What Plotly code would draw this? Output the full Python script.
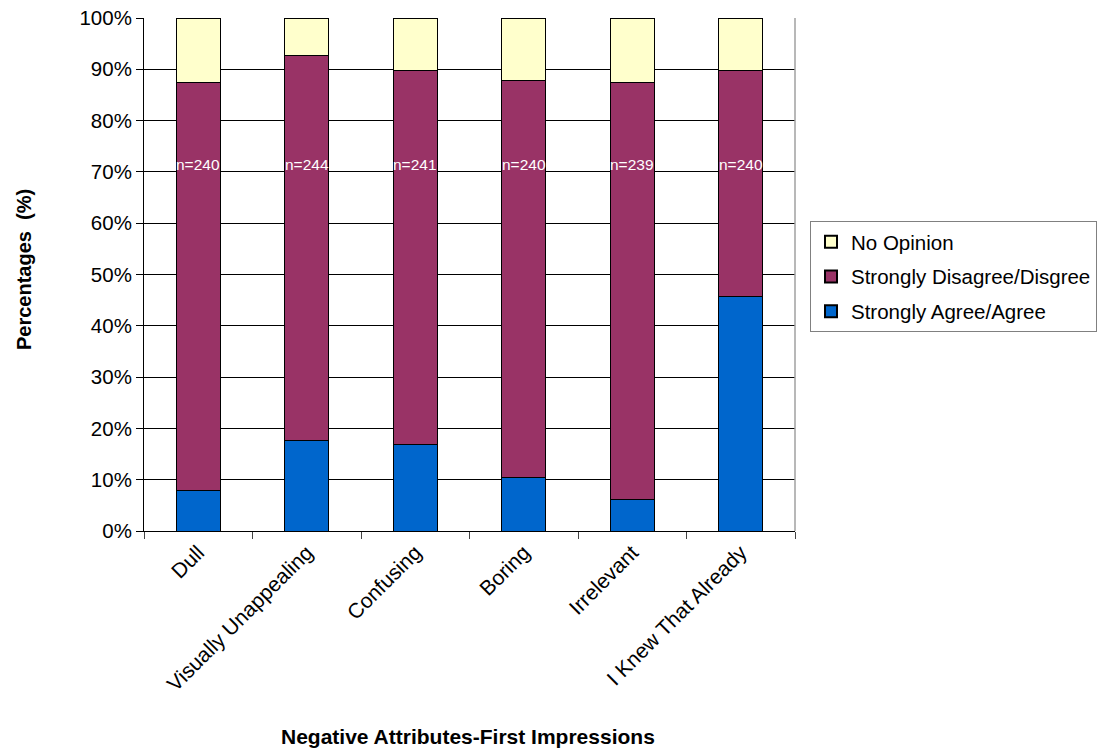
import plotly.graph_objects as go

categories = ["Dull", "Visually Unappealing", "Confusing", "Boring", "Irrelevant", "I Knew That Already"]
agree = [7.8, 17.6, 16.8, 10.5, 6.2, 45.8]
disagree = [79.6, 75.1, 72.9, 77.3, 81.2, 43.9]
no_opinion = [12.6, 7.3, 10.3, 12.2, 12.6, 10.3]
n_labels = ["n=240", "n=244", "n=241", "n=240", "n=239", "n=240"]

FONT = "Liberation Sans, Arial, sans-serif"
line = dict(color="black", width=1)

W, H = 1097, 749
L, R, T, B = 144, 302, 18, 218
plot_w = W - L - R
plot_h = H - T - B


def px_x(x):
    return (x - L) / plot_w


def px_y(y):
    return (T + plot_h - y) / plot_h


fig = go.Figure()
fig.add_trace(go.Bar(x=categories, y=agree, name="Strongly Agree/Agree",
                     legendgroup="a", legendrank=3,
                     marker=dict(color="#0066CC", line=line)))
fig.add_trace(go.Bar(x=categories, y=disagree, name="Strongly Disagree/Disgree",
                     legendgroup="d", legendrank=2,
                     marker=dict(color="#993366", line=line)))
fig.add_trace(go.Bar(x=categories, y=no_opinion, name="No Opinion",
                     legendgroup="n", legendrank=1,
                     marker=dict(color="#FFFFCC", line=line)))

for cat, lab in zip(categories, n_labels):
    fig.add_annotation(x=cat, y=71.5, text=lab, showarrow=False,
                       font=dict(family=FONT, size=15.5, color="white"))

# axis titles
fig.add_annotation(xref="paper", yref="paper", x=px_x(468), y=px_y(736),
                   text="<b>Negative Attributes-First Impressions</b>", showarrow=False,
                   xanchor="center", yanchor="middle",
                   font=dict(family=FONT, size=21, color="black"))
fig.add_annotation(xref="paper", yref="paper", x=px_x(24), y=px_y(270),
                   text="<b>Percentages  (%)</b>", showarrow=False, textangle=-90,
                   xanchor="center", yanchor="middle",
                   font=dict(family=FONT, size=20, color="black"))

# grey frame on the right side of the plot area
fig.add_shape(type="line", xref="paper", yref="paper", x0=1, x1=1, y0=0, y1=1,
              line=dict(color="#A0A0A0", width=1.5))

fig.update_layout(
    width=W, height=H,
    barmode="stack", bargap=0.594,
    plot_bgcolor="white", paper_bgcolor="white",
    margin=dict(l=L, r=R, t=T, b=B, autoexpand=False),
    font=dict(family=FONT, size=18, color="black"),
    xaxis=dict(
        tickangle=-45, ticks="outside", tickson="boundaries", ticklen=7,
        showline=True, linecolor="black", linewidth=1,
        tickfont=dict(size=21),
    ),
    yaxis=dict(
        range=[0, 100], dtick=10, ticksuffix="%",
        ticks="outside", ticklen=7, tickcolor="black",
        showline=True, linecolor="black", linewidth=1,
        showgrid=True, gridcolor="black", gridwidth=1,
        tickfont=dict(size=20.5),
    ),
    legend=dict(
        x=px_x(810), y=px_y(221),
        xanchor="left", yanchor="top",
        traceorder="grouped", bordercolor="#808080", borderwidth=1,
        font=dict(size=20.5), itemsizing="constant",
        tracegroupgap=5,
    ),
)

fig.write_html("out.html")
